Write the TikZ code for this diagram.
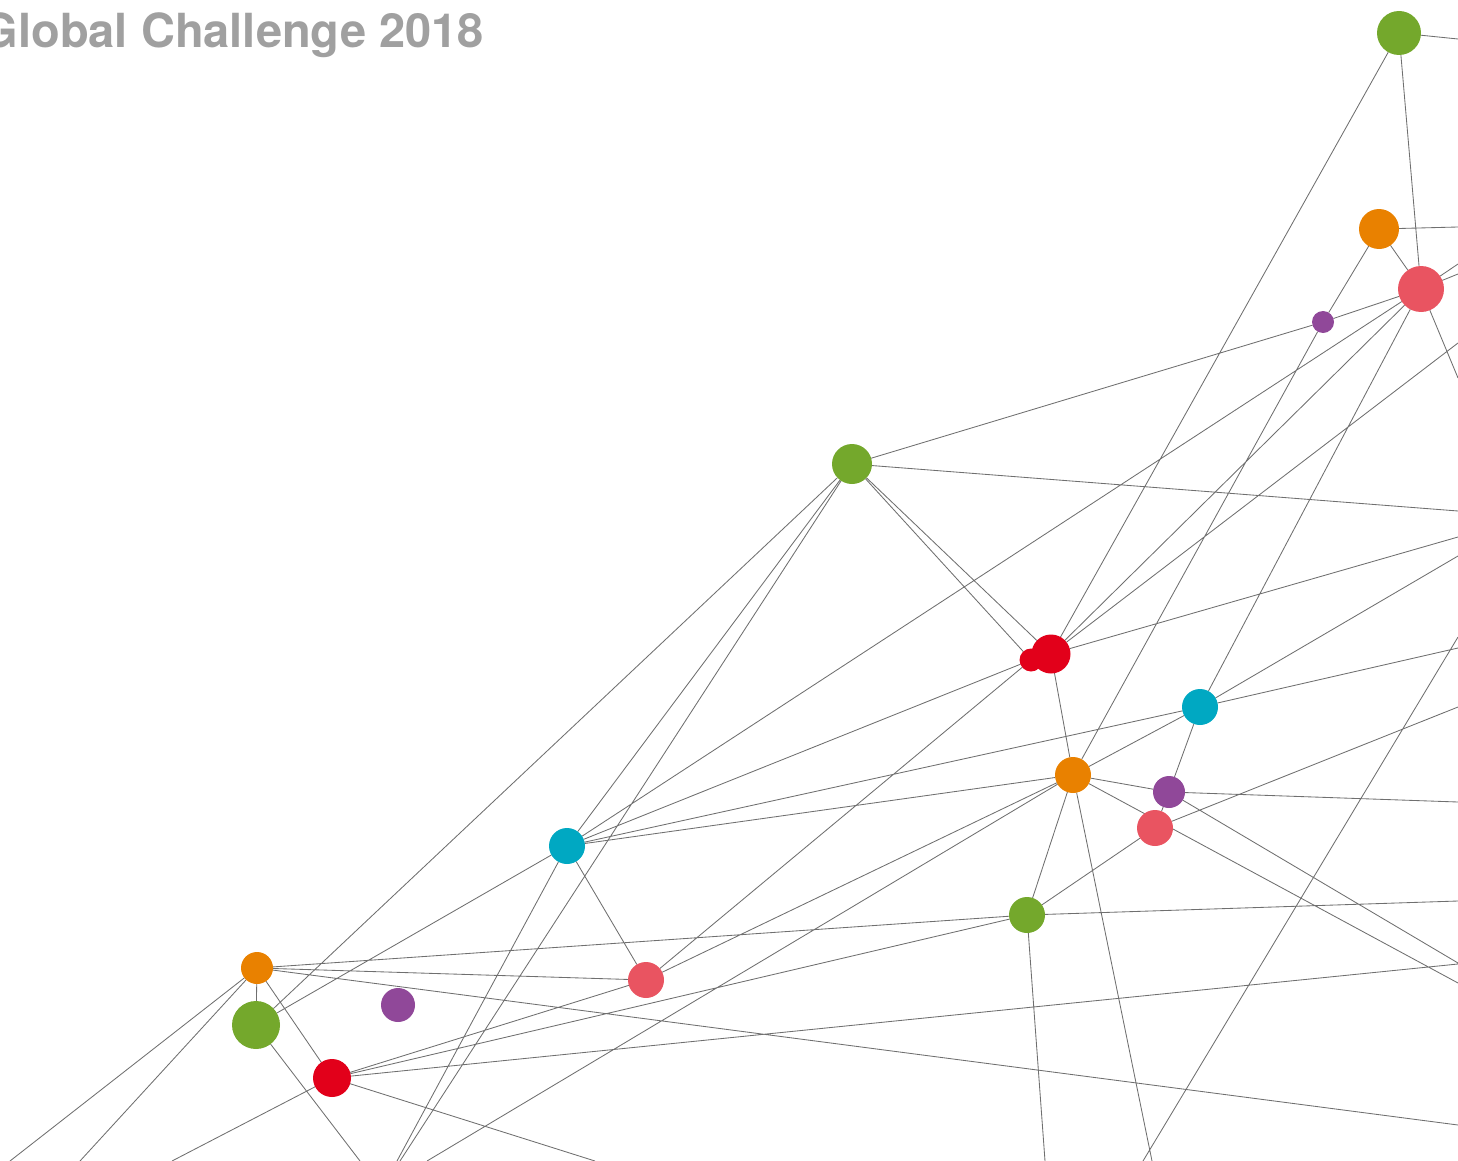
\documentclass[tikz,border=0pt]{standalone}
\usepackage{fontspec}
\newfontfamily\heros{TeX Gyre Heros}
\usetikzlibrary{backgrounds}
\definecolor{cgreen}{HTML}{74A82C}
\definecolor{corange}{HTML}{E98100}
\definecolor{csalmon}{HTML}{E95461}
\definecolor{cred}{HTML}{E2001A}
\definecolor{ccyan}{HTML}{00A8C2}
\definecolor{cpurple}{HTML}{904899}
\definecolor{cline}{HTML}{6F6F6F}
\definecolor{ctitle}{HTML}{A0A0A0}
\tikzset{
  dot/.style={circle, inner sep=0pt, outer sep=0pt, draw=none},
  gdot/.style={dot, fill=cgreen},
  odot/.style={dot, fill=corange},
  sdot/.style={dot, fill=csalmon},
  rdot/.style={dot, fill=cred},
  cdot/.style={dot, fill=ccyan},
  pdot/.style={dot, fill=cpurple},
  link/.style={draw=cline, line width=0.85pt},
}
\begin{document}
\begin{tikzpicture}[x=1pt,y=-1pt]
\useasboundingbox (0,0) rectangle (1458,1161);
% title
\node[anchor=base east, inner sep=0pt, text=ctitle, font=\heros\bfseries\fontsize{47}{47}\selectfont] (title) at (484,48) {Global Challenge 2018};
% nodes
\node[gdot, minimum size=44pt] (G1) at (1399,33) {};
\node[odot, minimum size=40pt] (O1) at (1379,229) {};
\node[sdot, minimum size=46pt] (R1) at (1421,289) {};
\node[pdot, minimum size=22pt] (P1) at (1323,322) {};
\node[gdot, minimum size=40pt] (G2) at (852,464) {};
\node[rdot, minimum size=23pt] (RS) at (1031,660) {};
\node[rdot, minimum size=39pt] (RB) at (1051,654) {};
\node[cdot, minimum size=36pt] (C1) at (1200,707) {};
\node[odot, minimum size=36pt] (O2) at (1073,775) {};
\node[pdot, minimum size=32pt] (P2) at (1169,792) {};
\node[sdot, minimum size=36pt] (S2) at (1155,828) {};
\node[gdot, minimum size=36pt] (G3) at (1027,915) {};
\node[cdot, minimum size=36pt] (C2) at (567,846) {};
\node[sdot, minimum size=36pt] (S3) at (646,980) {};
\node[odot, minimum size=32pt] (O3) at (257,968) {};
\node[gdot, minimum size=48pt] (G4) at (256,1025) {};
\node[pdot, minimum size=34pt] (P3) at (398,1005) {};
\node[rdot, minimum size=38pt] (R2) at (332,1078) {};
% free ends on the frame
\coordinate (e1) at (1458,39);
\coordinate (e2) at (1458,227);
\coordinate (e3) at (1458,264);
\coordinate (e4) at (1458,274);
\coordinate (e5) at (1458,378);
\coordinate (e6) at (1458,343);
\coordinate (e7) at (1458,537);
\coordinate (e8) at (1458,511);
\coordinate (e9) at (1458,556);
\coordinate (e10) at (1458,648);
\coordinate (e11) at (1458,983);
\coordinate (e12) at (1458,802);
\coordinate (e13) at (1458,963);
\coordinate (e14) at (1458,707);
\coordinate (e15) at (1458,901);
\coordinate (e16) at (1458,637);
\coordinate (e17) at (1458,1125);
\coordinate (e18) at (1458,964);
\coordinate (b1) at (400,1161);
\coordinate (b2) at (1152,1161);
\coordinate (b3) at (427,1161);
\coordinate (b4) at (1045,1161);
\coordinate (b5) at (1143,1161);
\coordinate (b6) at (397,1161);
\coordinate (b7) at (360,1161);
\coordinate (b8) at (10,1161);
\coordinate (b9) at (80,1161);
\coordinate (b10) at (595,1161);
\coordinate (b11) at (172,1161);
\begin{pgfonlayer}{background}
\path[link]
  (G1) -- (e1)  (G1) -- (R1)  (G1) -- (RB)
  (O1) -- (e2)  (O1) -- (R1)  (O1) -- (P1)
  (P1) -- (R1)  (P1) -- (G2)  (P1) -- (O2)
  (R1) -- (e3)  (R1) -- (e4)  (R1) -- (e5)
  (R1) -- (C2)  (R1) -- (RB)  (R1) -- (C1)
  (RB) -- (e6)  (RB) -- (e7)  (RB) -- (O2)
  (G2) -- (e8)  (G2) -- (RB)  (G2) -- (RS)
  (G2) -- (C2)  (G2) -- (b1)  (G2) -- (G4)
  (RS) -- (C2)  (RS) -- (S3)
  (C1) -- (e9)  (C1) -- (e10) (C1) -- (C2)
  (C1) -- (O2)  (C1) -- (P2)  (P2) -- (S2)
  (O2) -- (P2)  (O2) -- (e11) (O2) -- (G3)
  (O2) -- (b2)  (O2) -- (C2)  (O2) -- (S3)
  (O2) -- (b3)
  (P2) -- (e12) (P2) -- (e13)
  (S2) -- (e14) (S2) -- (G3)
  (G3) -- (e15) (G3) -- (b4)  (G3) -- (R2)
  (G3) -- (O3)
  (b5) -- (e16)
  (C2) -- (S3)  (C2) -- (b6)  (C2) -- (G4)
  (G4) -- (O3)  (G4) -- (b7)
  (O3) -- (b8)  (O3) -- (b9)  (O3) -- (R2)
  (O3) -- (S3)  (O3) -- (e17)
  (R2) -- (S3)  (R2) -- (e18) (R2) -- (b10)
  (R2) -- (b11);
\end{pgfonlayer}
\end{tikzpicture}
\end{document}
